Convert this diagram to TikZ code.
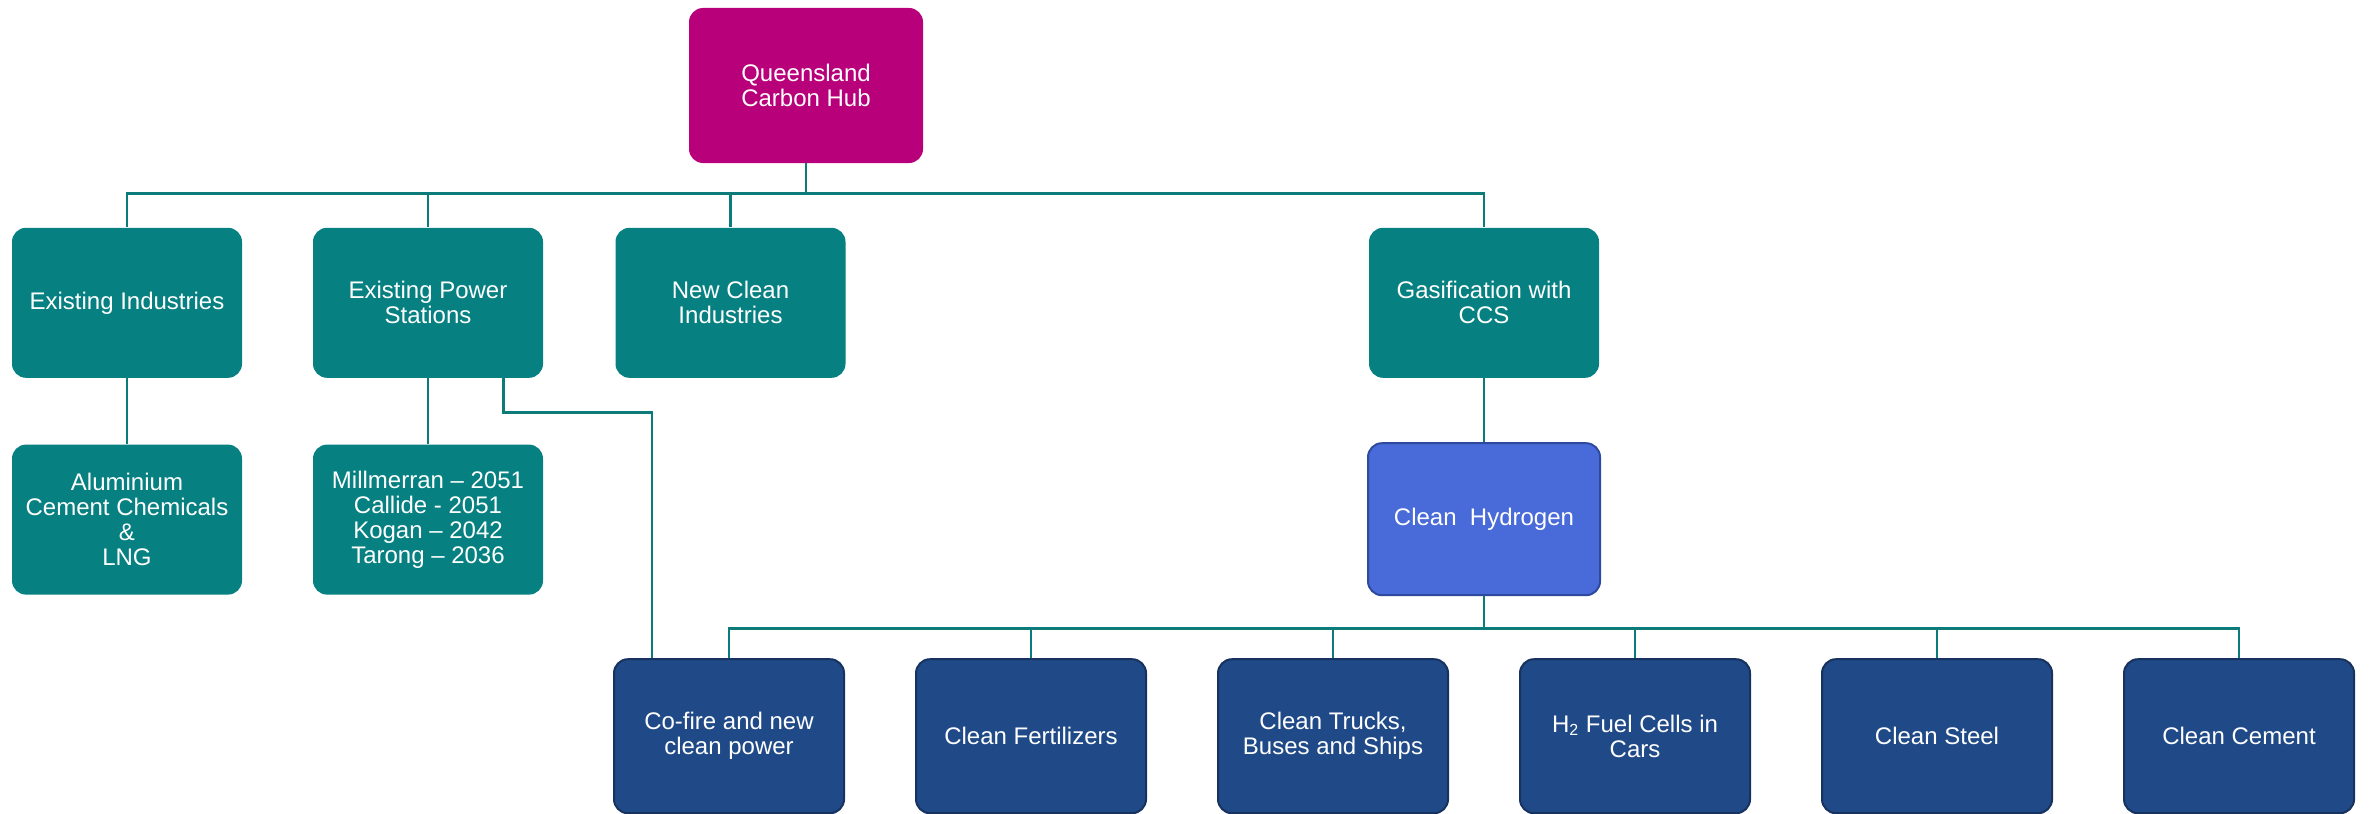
\documentclass[tikz,border=0pt]{standalone}
\usepackage{fontspec}
\setmainfont{Liberation Sans}
\usepackage{xcolor}
\usepackage{tikz}
\usetikzlibrary{positioning, shapes, calc}
\definecolor{HubMagenta}{RGB}{184,0,123}
\definecolor{BoxTeal}{RGB}{6,128,129}
\definecolor{LinkTeal}{RGB}{14,123,123}
\definecolor{HydroBlue}{RGB}{73,106,217}
\definecolor{HydroEdge}{RGB}{46,74,158}
\definecolor{NavyBlue}{RGB}{32,74,135}
\definecolor{NavyEdge}{RGB}{23,50,94}
\tikzset{
	every node/.style={
		align=center,
		font=\fontsize{12}{12.5}\selectfont,
	},
}
\tikzstyle{hubbox} = [rectangle, rounded corners=7pt, fill=HubMagenta, text=white, inner sep=2pt, minimum width=117pt, minimum height=77.5pt]
\tikzstyle{tealbox} = [rectangle, rounded corners=7pt, fill=BoxTeal, text=white, inner sep=2pt, minimum width=115pt, minimum height=75pt]
\tikzstyle{hydrobox} = [rectangle, rounded corners=7pt, fill=HydroBlue, draw=HydroEdge, line width=1pt, text=white, inner sep=2pt, minimum width=116pt, minimum height=76pt]
\tikzstyle{usebox} = [rectangle, rounded corners=7pt, fill=NavyBlue, draw=NavyEdge, line width=1pt, text=white, inner sep=2pt, minimum width=115pt, minimum height=77pt]
\tikzstyle{link} = [draw=LinkTeal, line width=1.3pt]

\begin{document}
\begin{tikzpicture}
        \useasboundingbox (0,0) rectangle (1184.5pt,-406.5pt);
        \node[hubbox] (hub) at (403pt,-42.75pt) {Queensland\\Carbon Hub};
        % second row
        \node[tealbox, below=32pt of hub, xshift=-339.5pt] (existing) {Existing Industries};
        \node[tealbox, below=32pt of hub, xshift=-189pt] (power) {Existing Power\\Stations};
        \node[tealbox, below=32pt of hub, xshift=-37.75pt] (newclean) {New Clean\\Industries};
        \node[tealbox, below=32pt of hub, xshift=339pt] (gasification) {Gasification with\\CCS};
        % third row
        \node[tealbox, below=33pt of existing] (aluminium) {Aluminium\\Cement Chemicals\\\&\\LNG};
        \node[tealbox, below=33pt of power] (millmerran) {Millmerran -- 2051\\Callide - 2051\\Kogan -- 2042\\Tarong -- 2036};
        \node[hydrobox, below=32pt of gasification] (hydrogen) {Clean\ \ Hydrogen};
        % bottom row
        \node[usebox, below=31pt of hydrogen, xshift=-377.5pt] (cofire) {Co-fire and new\\clean power};
        \node[usebox, below=31pt of hydrogen, xshift=-226.5pt] (fertilizers) {Clean Fertilizers};
        \node[usebox, below=31pt of hydrogen, xshift=-75.5pt] (trucks) {Clean Trucks,\\Buses and Ships};
        \node[usebox, below=31pt of hydrogen, xshift=75.5pt] (fuelcells) {H\textsubscript{2} Fuel Cells in\\Cars};
        \node[usebox, below=31pt of hydrogen, xshift=226.5pt] (steel) {Clean Steel};
        \node[usebox, below=31pt of hydrogen, xshift=377.5pt] (cement) {Clean Cement};
        % connectors
        \draw[link] (hub.south) -- ++(0,-15pt) -| (existing.north);
        \draw[link] (hub.south) -- ++(0,-15pt) -| (power.north);
        \draw[link] (hub.south) -- ++(0,-15pt) -| (newclean.north);
        \draw[link] (hub.south) -- ++(0,-15pt) -| (gasification.north);
        \draw[link] (existing) -- (aluminium);
        \draw[link] (power) -- (millmerran);
        \draw[link] ([xshift=-20pt]power.south east) -- ++(0,-17pt) -| ([xshift=19.5pt]cofire.north west);
        \draw[link] (gasification) -- (hydrogen);
        \draw[link] (hydrogen.south) -- ++(0,-16pt) -| (cofire.north);
        \draw[link] (hydrogen.south) -- ++(0,-16pt) -| (fertilizers.north);
        \draw[link] (hydrogen.south) -- ++(0,-16pt) -| (trucks.north);
        \draw[link] (hydrogen.south) -- ++(0,-16pt) -| (fuelcells.north);
        \draw[link] (hydrogen.south) -- ++(0,-16pt) -| (steel.north);
        \draw[link] (hydrogen.south) -- ++(0,-16pt) -| (cement.north);
\end{tikzpicture}
\end{document}
